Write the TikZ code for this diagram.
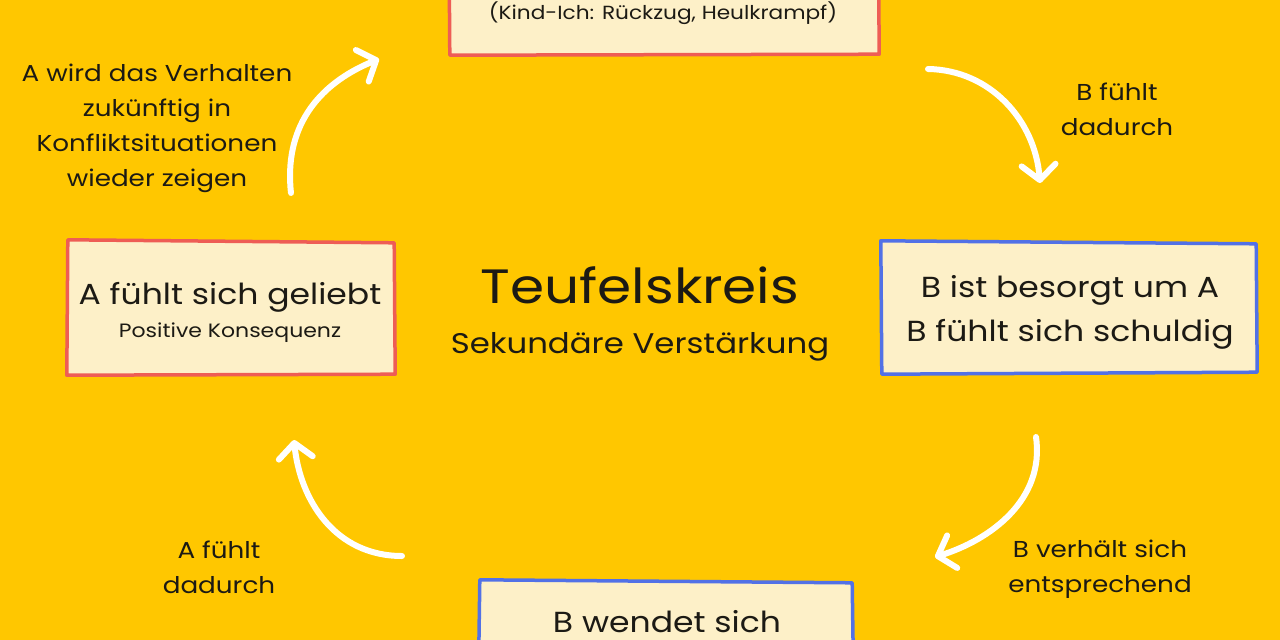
\documentclass[tikz,border=0pt]{standalone}
\usepackage{fontspec}
\setmainfont{Poppins}[FakeStretch=1.14]
\usetikzlibrary{arrows.meta}
\definecolor{bg}{HTML}{FFC700}
\definecolor{cream}{HTML}{FDF0C8}
\definecolor{redb}{HTML}{EE5D55}
\definecolor{blueb}{HTML}{5271E6}
\definecolor{ink}{HTML}{1C1A14}
\begin{document}
\begin{tikzpicture}[x=1pt,y=-1pt,
  box/.style={draw, line width=3.5pt, fill=cream, inner sep=0pt, line join=round},
  redbox/.style={box, draw=redb},
  bluebox/.style={box, draw=blueb},
  lbl/.style={text=ink, align=center, font=\fontsize{23}{34.8}\selectfont},
  boxtxt/.style={text=ink, align=center, font=\fontsize{29}{43}\selectfont},
  curvearrow/.style={draw=white, line width=6pt, line cap=round,
    -{Straight Barb[length=15pt,width=34pt,line width=6pt,round]}}]
\useasboundingbox (0,0) rectangle (1280,640);
\fill[bg] (0,0) rectangle (1280,640);

% boxes (slightly hand-drawn outlines)
\node[minimum width=432, minimum height=140, inner sep=0pt] (topbox) at (664,-15) {};
\draw[redbox] ([xshift=1,yshift=-2]topbox.north west) -- ([xshift=-2]topbox.north east) -- ([xshift=-1,yshift=1]topbox.south east) -- ([xshift=2]topbox.south west) -- cycle;
\node[text=ink, font=\fontsize{19}{23}\selectfont, anchor=base] (toptxt) at (663,19) {(Kind-Ich: Rückzug, Heulkrampf)};

\node[minimum width=328, minimum height=131, inner sep=0pt] (leftbox) at (230,307.5) {};
\draw[redbox] ([xshift=2,yshift=2]leftbox.north west) -- ([yshift=-1]leftbox.north east) -- ([xshift=1,yshift=-1]leftbox.south east) -- ([xshift=1,yshift=-2]leftbox.south west) -- cycle;
\node[boxtxt, anchor=base] (lefttxt) at (230,304) {A fühlt sich geliebt};
\node[text=ink, font=\fontsize{19.3}{23}\selectfont, anchor=base] (leftsub) at (230,337) {Positive Konsequenz};

\node[minimum width=378, minimum height=129, inner sep=0pt] (rightbox) at (1069,307.5) {};
\draw[bluebox] ([xshift=1,yshift=2]rightbox.north west) -- ([xshift=-2,yshift=-1]rightbox.north east) -- ([xshift=-1]rightbox.south east) -- ([xshift=2,yshift=-2]rightbox.south west) -- cycle;
\node[boxtxt, anchor=base] (righttxt1) at (1070,297) {B ist besorgt um A};
\node[boxtxt, anchor=base] (righttxt2) at (1070,341) {B fühlt sich schuldig};

\node[minimum width=375, minimum height=140, inner sep=0pt] (botbox) at (665.5,652) {};
\draw[bluebox] ([xshift=2,yshift=2]botbox.north west) -- ([xshift=-1,yshift=-1]botbox.north east) -- ([xshift=1]botbox.south east) -- (botbox.south west) -- cycle;
\node[boxtxt, anchor=base] (bottxt) at (667,632) {B wendet sich};

% center title
\node[text=ink, font=\fontsize{48.2}{58}\selectfont, anchor=base] (title) at (640,303) {Teufelskreis};
\node[text=ink, font=\fontsize{28.4}{34}\selectfont, anchor=base] (subtitle) at (640,353) {Sekundäre Verstärkung};

% labels (anchor=base is the last line's baseline)
\node[lbl, anchor=base] (l1) at (157,186) {A wird das Verhalten\\zukünftig in\\Konfliktsituationen\\wieder zeigen};
\node[lbl, anchor=base] (l2) at (1117,135) {B fühlt\\dadurch};
\node[lbl, anchor=base] (l3) at (1100,592) {B verhält sich\\entsprechend};
\node[lbl, anchor=base] (l4) at (219,593) {A fühlt\\dadurch};

% arrows
\coordinate (a1s) at (291,193);
\coordinate (a1e) at (379,59);
\coordinate (a2s) at (928,69);
\coordinate (a2e) at (1040,183);
\coordinate (a3s) at (1036,437);
\coordinate (a3e) at (935,557);
\coordinate (a4s) at (402,556);
\coordinate (a4e) at (294,440);
\draw[curvearrow] (a1s) .. controls (284,130) and (315,85) .. (a1e);
\draw[curvearrow] (a2s) .. controls (990,70) and (1035,120) .. (a2e);
\draw[curvearrow] (a3s) .. controls (1045,500) and (990,540) .. (a3e);
\draw[curvearrow] (a4s) .. controls (335,556) and (300,500) .. (a4e);
\end{tikzpicture}
\end{document}
